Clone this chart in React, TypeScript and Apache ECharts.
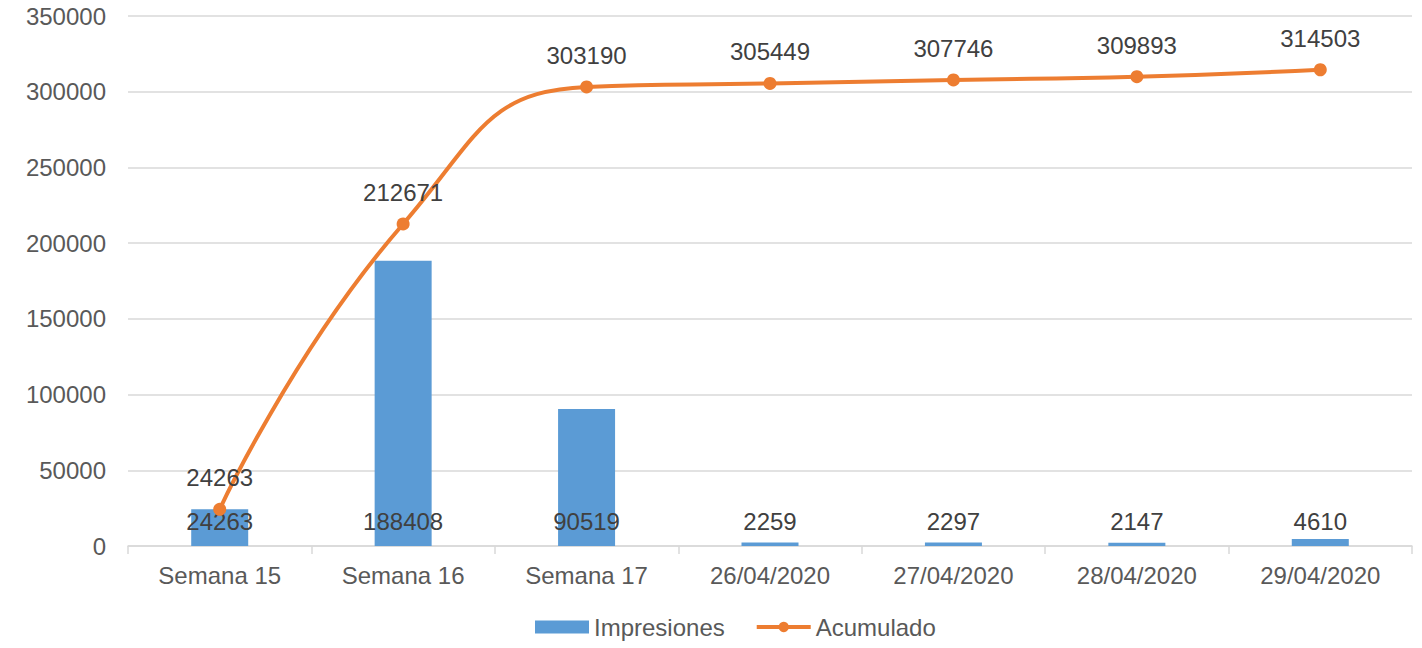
import React, { useEffect, useRef } from "react";
import * as echarts from "echarts";

const categories = ["Semana 15", "Semana 16", "Semana 17", "26/04/2020", "27/04/2020", "28/04/2020", "29/04/2020"];
const impresiones = [24263, 188408, 90519, 2259, 2297, 2147, 4610];
const acumulado = [24263, 212671, 303190, 305449, 307746, 309893, 314503];

export default function App() {
  const ref = useRef<HTMLDivElement>(null);
  useEffect(() => {
    const chart = echarts.init(ref.current!, null, { renderer: "svg" });
    const font = "Liberation Sans, Arial, sans-serif";
    const fs = 24;
    chart.setOption({
      animation: false,
      textStyle: { fontFamily: font },
      grid: { left: 128, right: 10, top: 16, bottom: 102 },
      legend: {
        bottom: 4,
        left: 530,
        itemGap: 30,
        itemWidth: 54,
        itemHeight: 13,
        textStyle: { fontSize: fs, color: "#595959", fontFamily: font },
        data: [
          { name: "Impresiones", icon: "rect" },
          { name: "Acumulado", lineStyle: { width: 4 } },
        ],
      },
      xAxis: {
        type: "category",
        data: categories,
        axisLine: { lineStyle: { color: "#d9d9d9", width: 1.5 } },
        axisTick: { show: true, length: 8, lineStyle: { color: "#d9d9d9", width: 1.5 } },
        axisLabel: { fontSize: fs, color: "#595959", margin: 17, fontFamily: font },
      },
      yAxis: {
        type: "value",
        min: 0,
        max: 350000,
        interval: 50000,
        axisLine: { show: false },
        axisTick: { show: false },
        axisLabel: { fontSize: fs, color: "#595959", margin: 22, fontFamily: font, formatter: (v: number) => String(v) },
        splitLine: { lineStyle: { color: "#d9d9d9", width: 1.5 } },
      },
      series: [
        {
          name: "Impresiones",
          type: "bar",
          data: impresiones,
          barWidth: 57,
          itemStyle: { color: "#5B9BD5" },
          label: {
            show: true,
            position: "insideBottom",
            distance: 13,
            fontSize: fs,
            color: "#404040",
            fontFamily: font,
          },
        },
        {
          name: "Acumulado",
          type: "line",
          data: acumulado,
          smooth: 0.5,
          symbol: "circle",
          symbolSize: 13,
          lineStyle: { color: "#ED7D31", width: 4 },
          itemStyle: { color: "#ED7D31" },
          label: {
            show: true,
            position: "top",
            distance: 13,
            fontSize: fs,
            color: "#404040",
            fontFamily: font,
          },
          z: 3,
        },
      ],
    });
    return () => chart.dispose();
  }, []);
  return <div ref={ref} style={{ position: "absolute", left: 0, top: 0, width: 1422, height: 648, background: "#fff" }} />;
}
